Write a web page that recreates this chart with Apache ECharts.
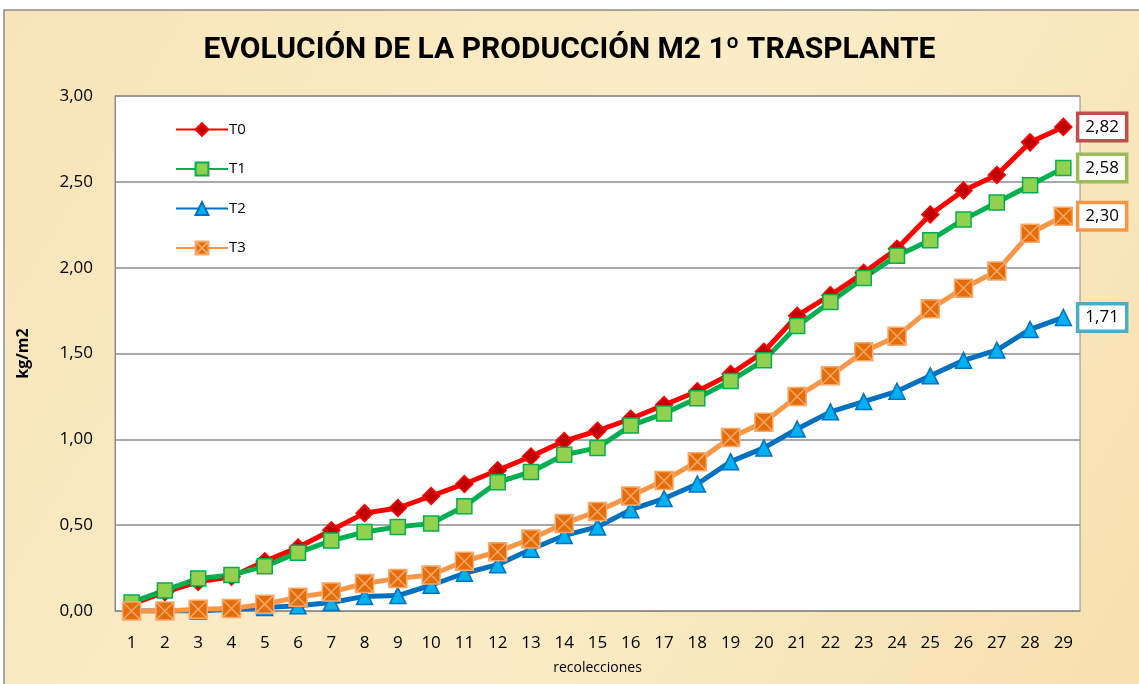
<!DOCTYPE html>
<html>
<head>
<meta charset="utf-8">
<script src="https://cdn.jsdelivr.net/npm/echarts@6/dist/echarts.min.js"></script>
<style>
  html, body { margin: 0; padding: 0; background: #fff; }
  #main { width: 1139px; height: 684px; }
</style>
</head>
<body>
<div id="main"></div>
<script>
// datos
const recolecciones = ['1','2','3','4','5','6','7','8','9','10','11','12','13','14','15','16','17','18','19','20','21','22','23','24','25','26','27','28','29'];
const t0 = [0.04,0.11,0.17,0.20,0.29,0.37,0.47,0.57,0.60,0.67,0.74,0.82,0.90,0.99,1.05,1.12,1.20,1.28,1.38,1.51,1.72,1.84,1.97,2.11,2.31,2.45,2.54,2.73,2.82];
const t1 = [0.05,0.12,0.19,0.21,0.26,0.34,0.41,0.46,0.49,0.51,0.61,0.75,0.81,0.91,0.95,1.08,1.15,1.24,1.34,1.46,1.66,1.80,1.94,2.07,2.16,2.28,2.38,2.48,2.58];
const t2 = [0.00,0.00,0.00,0.01,0.02,0.03,0.05,0.085,0.09,0.15,0.22,0.27,0.36,0.44,0.49,0.59,0.655,0.74,0.87,0.95,1.06,1.16,1.22,1.28,1.37,1.46,1.52,1.64,1.71];
const t3 = [0.00,0.00,0.01,0.015,0.04,0.08,0.11,0.16,0.19,0.21,0.29,0.345,0.42,0.51,0.58,0.67,0.76,0.87,1.01,1.10,1.25,1.37,1.51,1.60,1.76,1.88,1.98,2.20,2.30];
const yTicks = [0, 0.5, 1, 1.5, 2, 2.5, 3];

const chart = echarts.init(document.getElementById('main'));

const fmt = v => v.toFixed(2).replace('.', ',');
const xSquare = 'path://M0,0L10,0L10,10L0,10Z M0,0L10,10 M10,0L0,10';

function mkSeries(name, data, lineColor, symbol, symbolSize, fill, border, boxColor) {
    return {
        name: name,
        type: 'line',
        data: data,
        symbol: symbol,
        symbolSize: symbolSize,
        showAllSymbol: true,
        lineStyle: { color: lineColor, width: 5 },
        itemStyle: { color: fill, borderColor: border, borderWidth: 1.5 },
        emphasis: { disabled: true },
        endLabel: {
            show: true,
            formatter: p => fmt(p.value),
            distance: 16,
            color: '#000',
            fontFamily: 'Open Sans',
            fontSize: 17,
            backgroundColor: '#fff',
            borderColor: boxColor,
            borderWidth: 3.5,
            padding: [4, 6, 3, 6]
        }
    };
}

const option = {
    animation: false,
    graphic: [{
        type: 'rect',
        z: -10,
        shape: { x: 4, y: 10, width: 1140, height: 680 },
        style: {
            fill: new echarts.graphic.LinearGradient(0, 0, 1, 1, [
                { offset: 0, color: '#f8e4b8' },
                { offset: 0.5, color: '#fbecc8' },
                { offset: 1, color: '#f6e0b0' }
            ]),
            stroke: '#8c8c8c',
            lineWidth: 1.5
        }
    }],
    title: {
        text: 'EVOLUCIÓN DE LA PRODUCCIÓN M2 1º TRASPLANTE',
        left: 'center',
        top: 30,
        textStyle: {
            fontFamily: 'Roboto',
            fontWeight: 'bold',
            fontSize: 30,
            color: '#000'
        }
    },
    legend: {
        orient: 'vertical',
        left: 170,
        top: 117,
        itemWidth: 52,
        itemHeight: 16,
        itemGap: 24.5,
        textStyle: { fontFamily: 'Open Sans', fontSize: 15, color: '#000', padding: [0, 0, 0, -4] },
        data: ['T0', 'T1', 'T2', 'T3']
    },
    grid: {
        left: 115,
        right: 59,
        top: 96,
        bottom: 73,
        show: true,
        backgroundColor: '#fff',
        borderColor: '#8c8c8c',
        borderWidth: 1
    },
    xAxis: {
        type: 'category',
        data: recolecciones,
        name: 'recolecciones',
        nameLocation: 'middle',
        nameGap: 50,
        nameTextStyle: { fontFamily: 'Open Sans', fontSize: 14, color: '#000' },
        axisLine: { lineStyle: { color: '#8c8c8c' } },
        axisTick: { show: false },
        axisLabel: { fontFamily: 'Open Sans', fontSize: 17, color: '#000', margin: 24, interval: 0 }
    },
    yAxis: {
        type: 'value',
        min: yTicks[0],
        max: yTicks[yTicks.length - 1],
        interval: 0.5,
        name: 'kg/m2',
        nameLocation: 'middle',
        nameGap: 84,
        nameTextStyle: { fontFamily: 'Open Sans', fontWeight: 'bold', fontSize: 16, color: '#000' },
        axisLine: { show: true, lineStyle: { color: '#8c8c8c' } },
        axisTick: { show: false },
        axisLabel: { fontFamily: 'Open Sans', fontSize: 17, color: '#000', margin: 22, formatter: v => fmt(v) },
        splitLine: { lineStyle: { color: '#8c8c8c', width: 1.5 } }
    },
    series: [
        mkSeries('T0', t0, '#ff0000', 'diamond', 17, '#c00000', '#ff0000', '#c0504d'),
        mkSeries('T1', t1, '#00b050', 'rect', 15, '#92d050', '#00b050', '#9bbb59'),
        mkSeries('T2', t2, '#0070c0', 'triangle', 16, '#00b0f0', '#0070c0', '#4bacc6'),
        mkSeries('T3', t3, '#f79646', xSquare, 18, '#e46c0a', '#f9a868', '#f79646')
    ]
};

chart.setOption(option);
</script>
</body>
</html>
